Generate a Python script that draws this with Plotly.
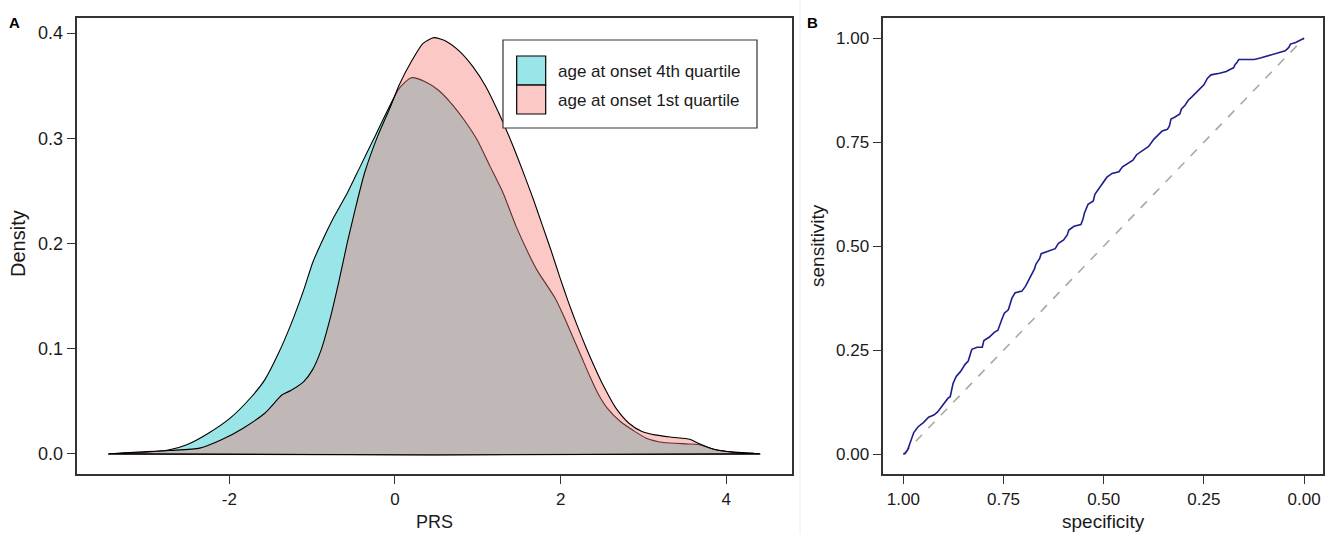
import plotly.graph_objects as go

W, H = 1333, 534

# ---------------- data ----------------
# Panel A: density of PRS, age at onset 4th quartile
prs_q4 = [-3.456, -3.037, -2.723, -2.514, -2.252, -1.990, -1.729, -1.572, -1.415, -1.258,
          -1.101, -0.996, -0.891, -0.734, -0.577, -0.420, -0.263, -0.106, 0.051, 0.198,
          0.365, 0.522, 0.679, 0.836, 0.993, 1.150, 1.307, 1.464, 1.621, 1.726,
          1.831, 1.935, 2.040, 2.145, 2.250, 2.354, 2.459, 2.563, 2.721, 2.878,
          3.034, 3.244, 3.505, 3.662, 3.872, 4.081, 4.405]
dens_q4 = [0.0, 0.0013, 0.0038, 0.0086, 0.0196, 0.0339, 0.0545, 0.0703, 0.0941, 0.1226,
           0.1558, 0.1812, 0.2002, 0.2255, 0.2477, 0.2730, 0.2983, 0.3237, 0.3474, 0.3575,
           0.3537, 0.3458, 0.3332, 0.3173, 0.2983, 0.2730, 0.2477, 0.2160, 0.1891, 0.1732,
           0.1606, 0.1479, 0.1305, 0.1115, 0.0925, 0.0735, 0.0561, 0.0434, 0.0307, 0.0222,
           0.0149, 0.0108, 0.0095, 0.0089, 0.0038, 0.0016, 0.0]

# Panel A: density of PRS, age at onset 1st quartile
prs_q1 = [-3.456, -2.723, -2.357, -2.095, -1.833, -1.572, -1.362, -1.258, -1.101, -0.996,
          -0.891, -0.787, -0.682, -0.577, -0.472, -0.368, -0.211, -0.054, 0.051, 0.208,
          0.339, 0.470, 0.627, 0.784, 0.941, 1.098, 1.255, 1.412, 1.569, 1.674,
          1.778, 1.883, 1.988, 2.092, 2.197, 2.302, 2.407, 2.511, 2.668, 2.825,
          2.982, 3.139, 3.348, 3.558, 3.662, 3.872, 4.081, 4.405]
dens_q1 = [0.0, 0.0032, 0.0054, 0.0133, 0.0244, 0.0386, 0.0561, 0.0602, 0.0687, 0.0798,
           0.0988, 0.1273, 0.1621, 0.2002, 0.2350, 0.2667, 0.3015, 0.3300, 0.3506, 0.3743,
           0.3902, 0.3956, 0.3918, 0.3823, 0.3680, 0.3490, 0.3237, 0.2952, 0.2635, 0.2413,
           0.2176, 0.1938, 0.1685, 0.1447, 0.1226, 0.1020, 0.0830, 0.0656, 0.0434, 0.0291,
           0.0212, 0.0180, 0.0158, 0.0139, 0.0101, 0.0038, 0.0016, 0.0]

# Panel B: ROC curve
specificity = [1.000, 0.995, 0.989, 0.987, 0.980, 0.974, 0.963, 0.950, 0.937, 0.924,
               0.915, 0.902, 0.889, 0.883, 0.876, 0.868, 0.857, 0.846, 0.838, 0.833,
               0.829, 0.816, 0.803, 0.799, 0.786, 0.773, 0.764, 0.755, 0.748, 0.738,
               0.732, 0.729, 0.721, 0.704, 0.695, 0.686, 0.678, 0.673, 0.669, 0.660,
               0.656, 0.643, 0.621, 0.613, 0.600, 0.591, 0.587, 0.574, 0.557, 0.552,
               0.548, 0.539, 0.526, 0.522, 0.513, 0.505, 0.496, 0.492, 0.479, 0.462,
               0.453, 0.440, 0.427, 0.418, 0.401, 0.388, 0.375, 0.366, 0.354, 0.341,
               0.336, 0.332, 0.323, 0.310, 0.306, 0.297, 0.289, 0.280, 0.267, 0.258,
               0.250, 0.241, 0.232, 0.211, 0.194, 0.185, 0.176, 0.172, 0.168, 0.163,
               0.124, 0.107, 0.094, 0.081, 0.064, 0.047, 0.038, 0.034, 0.021, 0.012, 0.000]
sensitivity = [0.000, 0.002, 0.011, 0.017, 0.035, 0.052, 0.066, 0.076, 0.089, 0.094,
               0.101, 0.117, 0.134, 0.138, 0.170, 0.187, 0.199, 0.216, 0.224, 0.240,
               0.252, 0.257, 0.257, 0.273, 0.281, 0.293, 0.298, 0.322, 0.339, 0.347,
               0.367, 0.375, 0.388, 0.392, 0.404, 0.420, 0.437, 0.445, 0.457, 0.470,
               0.482, 0.486, 0.494, 0.507, 0.515, 0.527, 0.539, 0.548, 0.552, 0.564,
               0.580, 0.601, 0.609, 0.625, 0.638, 0.650, 0.662, 0.666, 0.675, 0.679,
               0.691, 0.699, 0.707, 0.720, 0.732, 0.740, 0.757, 0.765, 0.777, 0.781,
               0.789, 0.806, 0.810, 0.818, 0.830, 0.839, 0.851, 0.859, 0.871, 0.880,
               0.888, 0.904, 0.912, 0.916, 0.920, 0.925, 0.929, 0.937, 0.941, 0.949,
               0.949, 0.953, 0.957, 0.961, 0.966, 0.970, 0.978, 0.986, 0.990, 0.994, 1.000]

chance_spec = [1.0, 0.0]
chance_sens = [0.0, 1.0]

labels = ["age at onset 4th quartile", "age at onset 1st quartile"]
x_ticks_a = [-2, 0, 2, 4]
y_ticks_a = [0.0, 0.1, 0.2, 0.3, 0.4]
ticks_b = [0.0, 0.25, 0.5, 0.75, 1.0]

# ---------------- styling ----------------
CYAN = "rgba(0,191,196,0.4)"
PINK = "rgba(248,118,109,0.4)"
FONT = "Liberation Sans, Arial, Helvetica, sans-serif"
TXT = "#1a1a1a"
AX = "#333333"


def fx(p):
    return p / W


def fy(p):
    return 1 - p / H


fig = go.Figure()

# density polygons (closed along the baseline)
for xs, ys, col, name in [(prs_q4, dens_q4, CYAN, labels[0]),
                          (prs_q1, dens_q1, PINK, labels[1])]:
    fig.add_trace(go.Scatter(
        x=list(xs) + [xs[0]], y=list(ys) + [ys[0]],
        mode="lines", fill="toself", fillcolor=col,
        line=dict(color="black", width=1.1, shape="spline", smoothing=0.6),
        name=name, showlegend=False, xaxis="x", yaxis="y", hoverinfo="skip"))

# ROC panel
fig.add_trace(go.Scatter(
    x=chance_spec, y=chance_sens, mode="lines",
    line=dict(color="#a8a8a8", width=1.6, dash="dash"),
    showlegend=False, xaxis="x2", yaxis="y2", hoverinfo="skip"))
fig.add_trace(go.Scatter(
    x=specificity, y=sensitivity, mode="lines",
    line=dict(color="#1e1e8c", width=1.6),
    showlegend=False, xaxis="x2", yaxis="y2"))

ydom = [fy(473.5), fy(18.3)]
axis_common = dict(showgrid=False, zeroline=False, showline=True, mirror=True,
                   linecolor=AX, linewidth=1.5, ticks="outside", ticklen=9,
                   tickwidth=1, tickcolor=AX)


def tf(size):
    return dict(family=FONT, size=size, color=TXT)


fig.update_layout(
    width=W, height=H,
    margin=dict(l=0, r=0, t=0, b=0),
    paper_bgcolor="white", plot_bgcolor="white",
    showlegend=False,
    xaxis=dict(domain=[fx(77.3), fx(791.7)], range=[-3.835, 4.79],
               tickvals=x_ticks_a, ticktext=[str(v) for v in x_ticks_a],
               anchor="y", tickfont=tf(17), **axis_common),
    yaxis=dict(domain=ydom, range=[-0.0187, 0.414],
               tickvals=y_ticks_a, tickformat=".1f", anchor="x", tickfont=tf(18), **axis_common),
    xaxis2=dict(domain=[fx(883.3), fx(1323.3)], range=[1.05, -0.048],
                tickvals=ticks_b, tickformat=".2f", anchor="y2", tickfont=tf(17), **axis_common),
    yaxis2=dict(domain=ydom, range=[-0.0465, 1.048],
                tickvals=ticks_b, tickformat=".2f", anchor="x2", tickfont=tf(17), **axis_common),
)

shapes = [
    # faint separator between the panels
    dict(type="line", xref="paper", yref="paper", x0=fx(800), x1=fx(800), y0=0, y1=1,
         line=dict(color="#ececec", width=1)),
    # legend box
    dict(type="rect", xref="paper", yref="paper", x0=fx(503), x1=fx(757), y0=fy(128), y1=fy(40),
         line=dict(color=AX, width=1.2), fillcolor="white", layer="above"),
    dict(type="rect", xref="paper", yref="paper", x0=fx(516.7), x1=fx(545.7), y0=fy(85), y1=fy(56),
         line=dict(color="black", width=1.2), fillcolor=CYAN, layer="above"),
    dict(type="rect", xref="paper", yref="paper", x0=fx(516.7), x1=fx(545.7), y0=fy(114), y1=fy(85),
         line=dict(color="black", width=1.2), fillcolor=PINK, layer="above"),
]
fig.update_layout(shapes=shapes)

ann = []
for lab, yy in zip(labels, [71.7, 100.7]):
    ann.append(dict(text=lab, x=fx(555.7), y=fy(yy), xref="paper", yref="paper",
                    xanchor="left", yanchor="middle", showarrow=False, font=tf(17)))
# axis titles
titles = [
    dict(text="PRS", x=fx(434.5), y=fy(522), xanchor="center", yanchor="middle", font=tf(18)),
    dict(text="Density", x=fx(18), y=fy(244), xanchor="center", yanchor="middle",
         textangle=-90, font=tf(20)),
    dict(text="specificity", x=fx(1103.3), y=fy(521), xanchor="center", yanchor="middle",
         font=tf(19)),
    dict(text="sensitivity", x=fx(817), y=fy(246), xanchor="center", yanchor="middle",
         textangle=-90, font=tf(19)),
]
for a in titles:
    a.update(xref="paper", yref="paper", showarrow=False)
ann += titles
# panel letters
for lab, xx in [("A", 15), ("B", 812)]:
    ann.append(dict(text="<b>%s</b>" % lab, x=fx(xx), y=fy(23), xref="paper", yref="paper",
                    xanchor="center", yanchor="middle", showarrow=False,
                    font=dict(family=FONT, size=15, color="black")))
fig.update_layout(annotations=ann)

fig.write_html("out.html")
